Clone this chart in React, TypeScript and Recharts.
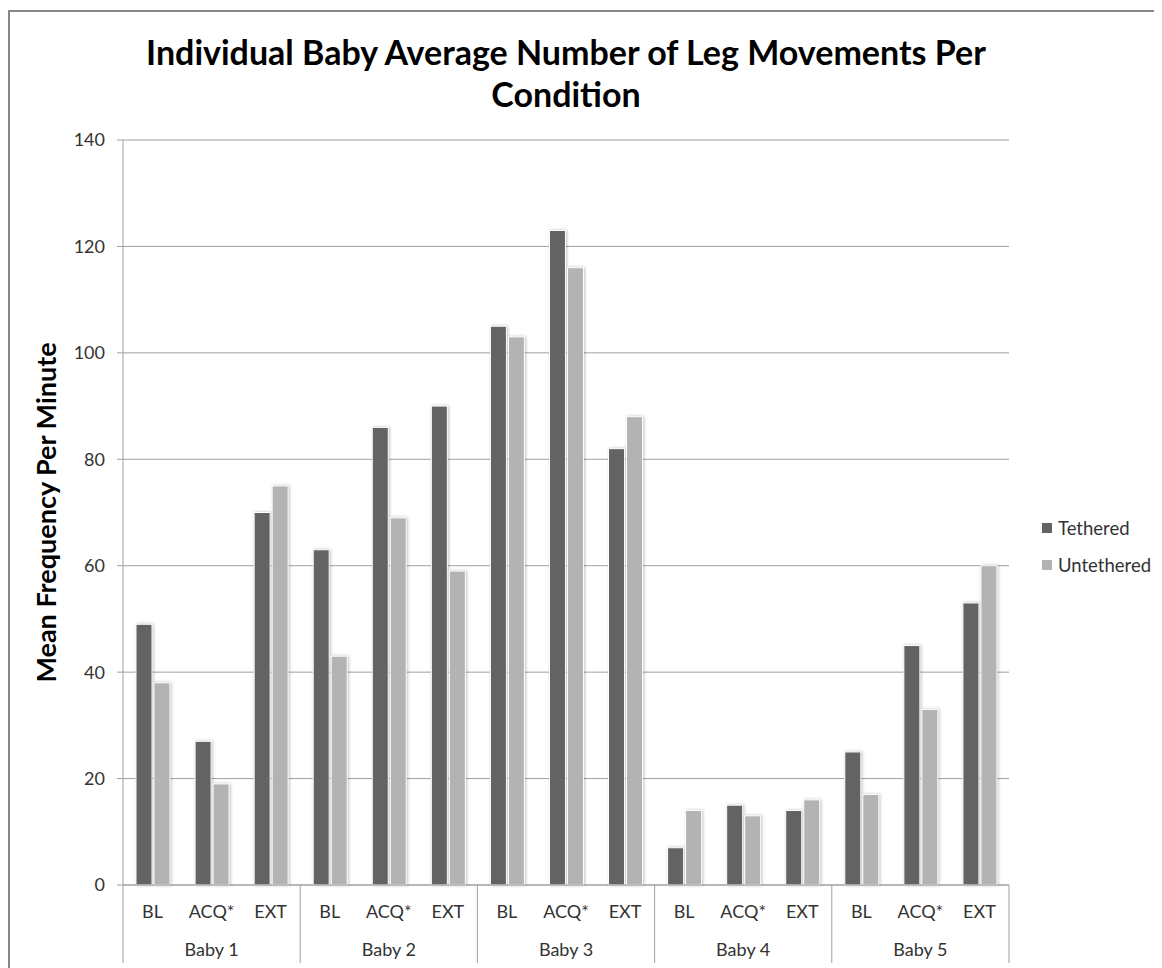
import React from 'react';
import { BarChart, Bar, XAxis, YAxis, CartesianGrid, Legend, Label } from 'recharts';

const babies = ['Baby 1', 'Baby 2', 'Baby 3', 'Baby 4', 'Baby 5'];
const conditions = ['BL', 'ACQ*', 'EXT'];
const tethered = [49, 27, 70, 63, 86, 90, 105, 123, 82, 7, 15, 14, 25, 45, 53];
const untethered = [38, 19, 75, 43, 69, 59, 103, 116, 88, 14, 13, 16, 17, 33, 60];
const yTicks = [0, 20, 40, 60, 80, 100, 120, 140];
const seriesNames = ['Tethered', 'Untethered'];
const seriesColors = ['#636363', '#b3b3b3'];
const titleLines = ['Individual Baby Average Number of Leg Movements Per', 'Condition'];
const yLabel = 'Mean Frequency Per Minute';

const data = babies.flatMap((b, bi) =>
  conditions.map((c, ci) => ({
    key: `${b}|${c}`,
    baby: b,
    cond: c,
    Tethered: tethered[bi * 3 + ci],
    Untethered: untethered[bi * 3 + ci],
  }))
);

const W = 1160;
const H = 960;
const MARGIN = { top: 128, right: 161, bottom: 7, left: 13 };
const Y_W = 100;
const X_H = 80;
const PLOT_W = W - MARGIN.left - MARGIN.right - Y_W;
const PLOT_H = H - MARGIN.top - MARGIN.bottom - X_H;
const BAND = PLOT_W / data.length;
const FONT = 'Lato, "Open Sans", sans-serif';
const AXIS_COLOR = '#a0a0a0';
const TEXT_COLOR = '#333333';

const XTick = (props: any) => {
  const { x, y, index } = props;
  const row = data[index];
  if (!row) return null;
  const ci = index % 3;
  return (
    <g>
      <text x={x} y={y + 27} dy="0.35em" textAnchor="middle" fontSize={18} fill={TEXT_COLOR} fontFamily={FONT}>
        {row.cond}
      </text>
      {ci === 0 && (
        <line x1={x - BAND / 2} x2={x - BAND / 2} y1={y} y2={y + 78} stroke={AXIS_COLOR} strokeWidth={1} />
      )}
      {index === data.length - 1 && (
        <line x1={x + BAND / 2} x2={x + BAND / 2} y1={y} y2={y + 78} stroke={AXIS_COLOR} strokeWidth={1} />
      )}
      {ci === 1 && (
        <text x={x} y={y + 65} dy="0.35em" textAnchor="middle" fontSize={18} fill={TEXT_COLOR} fontFamily={FONT}>
          {row.baby}
        </text>
      )}
    </g>
  );
};

const BarShape = (props: any) => {
  const { x, y, width, height, fill } = props;
  if (height == null || height <= 0) return null;
  return (
    <rect
      x={x}
      y={y}
      width={width}
      height={height}
      fill={fill}
      stroke="#ffffff"
      strokeWidth={1}
      style={{ filter: 'drop-shadow(1px 0px 1.5px rgba(0,0,0,0.25))' }}
    />
  );
};

const LegendContent = () => (
  <div style={{ fontFamily: FONT, fontSize: 18.5, color: TEXT_COLOR }}>
    {seriesNames.map((n, i) => (
      <div key={n} style={{ display: 'flex', alignItems: 'center', height: 37 }}>
        <span style={{ display: 'inline-block', width: 10, height: 10, background: seriesColors[i], marginRight: 6 }} />
        <span>{n}</span>
      </div>
    ))}
  </div>
);

const YLabelContent = () => {
  const cx = 35;
  const cy = MARGIN.top + PLOT_H / 2;
  return (
    <text
      x={cx}
      y={cy}
      transform={`rotate(-90 ${cx} ${cy})`}
      textAnchor="middle"
      dominantBaseline="central"
      fontSize={27}
      fontWeight="bold"
      fill="#000"
      fontFamily={FONT}
    >
      {yLabel}
    </text>
  );
};

export default function App() {
  return (
    <div
      style={{
        position: 'relative',
        marginTop: 2,
        width: W,
        height: H,
        border: '2px solid #878787',
        background: '#fff',
      }}
    >
      <div
        style={{
          position: 'absolute',
          left: MARGIN.left + Y_W - 40,
          top: 19,
          width: PLOT_W + 80,
          textAlign: 'center',
          fontFamily: FONT,
          fontWeight: 'bold',
          fontSize: 34,
          lineHeight: '42px',
          color: '#000',
          zIndex: 2,
        }}
      >
        {titleLines.map((t) => (
          <div key={t}>{t}</div>
        ))}
      </div>
      <BarChart
        width={W}
        height={H}
        data={data}
        margin={MARGIN}
        barCategoryGap="22%"
        barGap={2}
      >
        <CartesianGrid vertical={false} stroke={AXIS_COLOR} strokeWidth={1} />
        <XAxis
          dataKey="key"
          interval={0}
          height={X_H}
          tickSize={0}
          tickMargin={0}
          tickLine={false}
          axisLine={{ stroke: AXIS_COLOR }}
          tick={<XTick />}
        />
        <YAxis
          width={Y_W}
          domain={[0, 140]}
          ticks={yTicks}
          interval={0}
          tickSize={6}
          tickMargin={12}
          tickLine={{ stroke: AXIS_COLOR }}
          axisLine={{ stroke: AXIS_COLOR }}
          tick={{ fontSize: 18, fill: TEXT_COLOR, fontFamily: FONT }}
        >
          <Label content={<YLabelContent />} />
        </YAxis>
        <Legend
          layout="vertical"
          align="center"
          verticalAlign="middle"
          content={<LegendContent />}
          wrapperStyle={{ left: 1032, top: 497, width: 126, height: 74 }}
        />
        {seriesNames.map((n, i) => (
          <Bar
            key={n}
            dataKey={n}
            fill={seriesColors[i]}
            isAnimationActive={false}
            shape={<BarShape />}
          />
        ))}
      </BarChart>
    </div>
  );
}
